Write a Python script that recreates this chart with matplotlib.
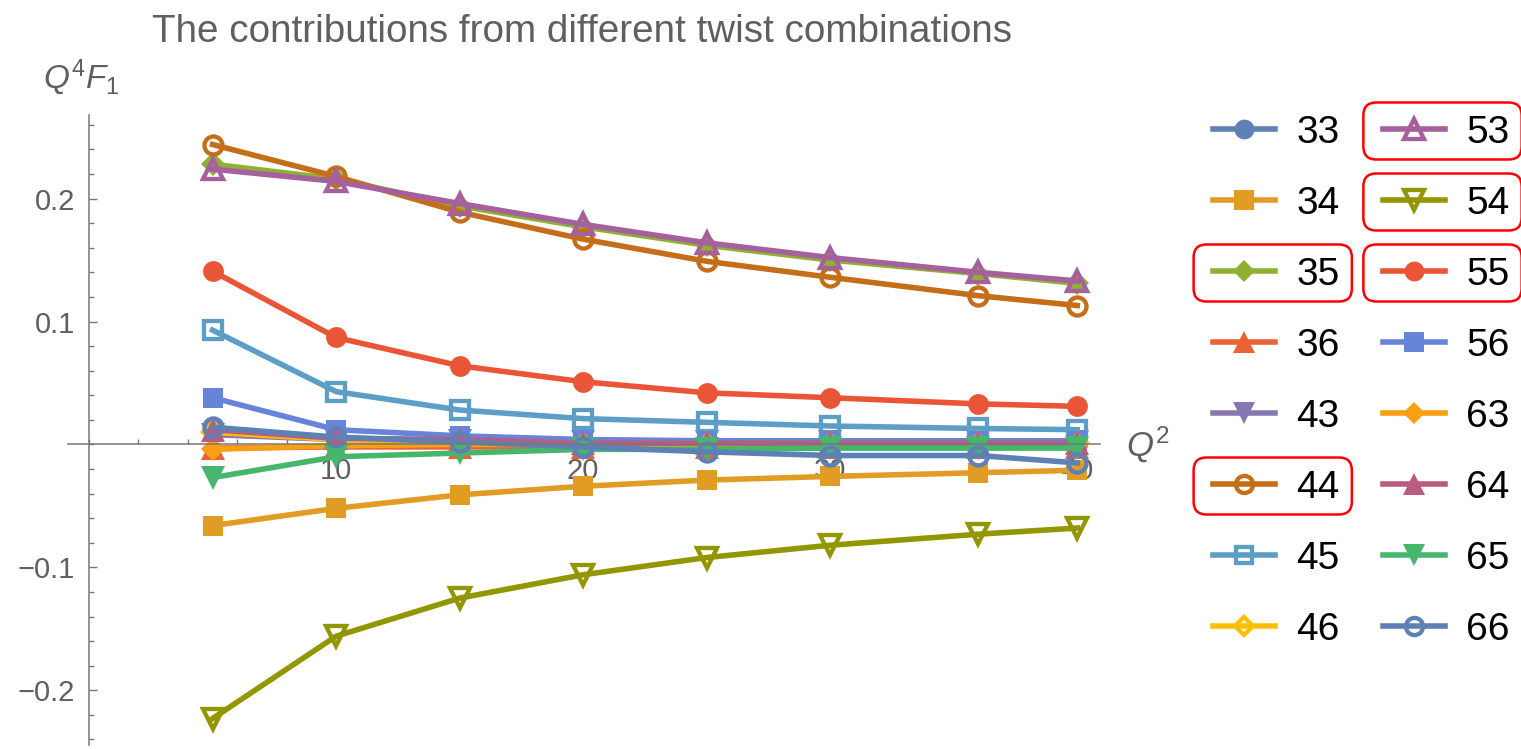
import matplotlib
matplotlib.use("Agg")
import matplotlib.pyplot as plt
from matplotlib.patches import FancyBboxPatch
from matplotlib.ticker import MultipleLocator, FixedLocator

plt.rcParams['font.family'] = ['Liberation Sans', 'DejaVu Sans']
plt.rcParams['mathtext.fontset'] = 'custom'
plt.rcParams['mathtext.rm'] = 'Liberation Sans'
plt.rcParams['mathtext.it'] = 'Liberation Sans:italic'

# Q^2 sample points
q2 = [5, 10, 15, 20, 25, 30, 36, 40]

# Q^4 F_1 contributions for each twist combination
twist_33 = [0.012, 0.005, 0.003, 0.001, 0.000, 0.000, 0.000, 0.000]
twist_34 = [-0.066, -0.052, -0.041, -0.034, -0.029, -0.026, -0.023, -0.021]
twist_35 = [0.228, 0.216, 0.194, 0.177, 0.162, 0.150, 0.139, 0.131]
twist_36 = [-0.003, -0.002, -0.002, -0.002, -0.002, -0.002, -0.002, -0.002]
twist_43 = [0.008, 0.004, 0.003, 0.002, 0.002, 0.002, 0.002, 0.002]
twist_44 = [0.244, 0.218, 0.189, 0.167, 0.149, 0.136, 0.121, 0.113]
twist_45 = [0.093, 0.043, 0.028, 0.021, 0.018, 0.015, 0.013, 0.012]
twist_46 = [0.010, 0.004, 0.002, 0.001, 0.001, 0.001, 0.001, 0.001]
twist_53 = [0.224, 0.214, 0.196, 0.179, 0.164, 0.152, 0.140, 0.133]
twist_54 = [-0.223, -0.156, -0.125, -0.106, -0.092, -0.082, -0.073, -0.068]
twist_55 = [0.141, 0.087, 0.064, 0.051, 0.042, 0.038, 0.033, 0.031]
twist_56 = [0.038, 0.012, 0.007, 0.004, 0.003, 0.003, 0.003, 0.003]
twist_63 = [-0.004, -0.001, 0.000, 0.000, 0.000, 0.000, 0.000, 0.000]
twist_64 = [0.012, 0.005, 0.004, 0.001, 0.001, 0.001, 0.001, 0.001]
twist_65 = [-0.027, -0.010, -0.007, -0.004, -0.004, -0.003, -0.003, -0.003]
twist_66 = [0.014, 0.006, 0.002, -0.002, -0.006, -0.009, -0.009, -0.015]

labels = ["33", "34", "35", "36", "43", "44", "45", "46",
          "53", "54", "55", "56", "63", "64", "65", "66"]
series = [twist_33, twist_34, twist_35, twist_36, twist_43, twist_44,
          twist_45, twist_46, twist_53, twist_54, twist_55, twist_56,
          twist_63, twist_64, twist_65, twist_66]
highlighted = ["35", "44", "53", "54", "55"]

colors = ["#5E81B5", "#E19C24", "#8FB032", "#EB6235", "#8778B3", "#C56E1A",
          "#5D9EC7", "#FFBF00", "#A5609D", "#929600", "#E95536", "#6685D9",
          "#F89F13", "#BC5B80", "#47B66D", "#5E81B5"]
markers = ["o", "s", "D", "^", "v", "o", "s", "D",
           "^", "v", "o", "s", "D", "^", "v", "o"]
filled = [True] * 5 + [False] * 5 + [True] * 5 + [False]
msizes = {"o": 15, "s": 14.5, "D": 12, "^": 17, "v": 17}

W, H = 1521, 749
fig = plt.figure(figsize=(W / 100, H / 100), dpi=100)
ax = fig.add_axes([68 / W, 4 / H, (1100 - 68) / W, (745 - 115) / H])
ax.set_xlim(-0.85, 40.92)
ax.set_ylim(-0.2445, 0.268)

handles = []
for ys, lab, c, m, f in zip(series, labels, colors, markers, filled):
    ms = msizes[m] if f else msizes[m] - 2.0
    h, = ax.plot(q2, ys, color=c, lw=4.0, marker=m, ms=ms,
                 mfc=c if f else "none", mec=c, mew=0 if f else 3.1,
                 clip_on=False, label=lab)
    handles.append(h)

axis_gray = "#777777"
text_gray = "#5F5F5F"
for s in ("top", "right"):
    ax.spines[s].set_visible(False)
ax.spines["left"].set_position(("data", 0))
ax.spines["bottom"].set_position(("data", 0))
for s in ("left", "bottom"):
    ax.spines[s].set_color(axis_gray)
    ax.spines[s].set_linewidth(1.1)
ax.set_axisbelow(True)

ax.xaxis.set_major_locator(FixedLocator([10, 20, 30, 40]))
ax.set_xticklabels(["10", "20", "30", "40"])
ax.xaxis.set_minor_locator(MultipleLocator(2))
ax.yaxis.set_major_locator(FixedLocator([-0.2, -0.1, 0.1, 0.2]))
ax.set_yticklabels(["\u22120.2", "\u22120.1", "0.1", "0.2"])
ax.yaxis.set_minor_locator(MultipleLocator(0.02))
ax.tick_params(which="both", direction="in", color=axis_gray, width=1,
               labelsize=21, labelcolor=text_gray)
ax.tick_params(which="major", length=6)
ax.tick_params(which="minor", length=3.5)
ax.tick_params(axis="y", pad=10)
ax.tick_params(axis="x", pad=9)

fig.text(152 / W, 1 - 42 / H, "The contributions from different twist combinations",
         fontsize=27.8, color=text_gray, va="baseline", ha="left")
fig.text(43 / W, 1 - 88 / H, r"$Q^{\mathrm{4}}F_{\mathrm{1}}$",
         fontsize=24, color=text_gray, va="baseline", ha="left")
fig.text(1126 / W, 1 - 457 / H, r"$Q^{\mathrm{2}}$",
         fontsize=25, color=text_gray, va="baseline", ha="left")

leg = ax.legend(handles=handles, labels=labels, ncol=2, loc="upper left",
                bbox_to_anchor=(1213 / W, 1 - 115 / H),
                bbox_transform=fig.transFigure, frameon=False, fontsize=28,
                handlelength=1.6, handletextpad=0.55, columnspacing=1.1,
                labelspacing=0.90, borderpad=0, borderaxespad=0,
                markerscale=0.95)
for t in leg.get_texts():
    t.set_color("black")

# rounded red frames around the highlighted combinations
fig.canvas.draw()
renderer = fig.canvas.get_renderer()
for t in leg.get_texts():
    if t.get_text() in highlighted:
        bb = t.get_window_extent(renderer)
        yc = (bb.y0 + bb.y1) / 2 + 2
        x0 = bb.x0 - 103
        x1 = bb.x1 + 12
        box = FancyBboxPatch((x0 / W, (yc - 28.5) / H), (x1 - x0) / W, 57 / H,
                             boxstyle="round,pad=0,rounding_size=0.0085",
                             transform=fig.transFigure, fill=False,
                             edgecolor="#FF0000", lw=1.8, mutation_aspect=W / H)
        fig.add_artist(box)

fig.savefig("out.png", dpi=100)
